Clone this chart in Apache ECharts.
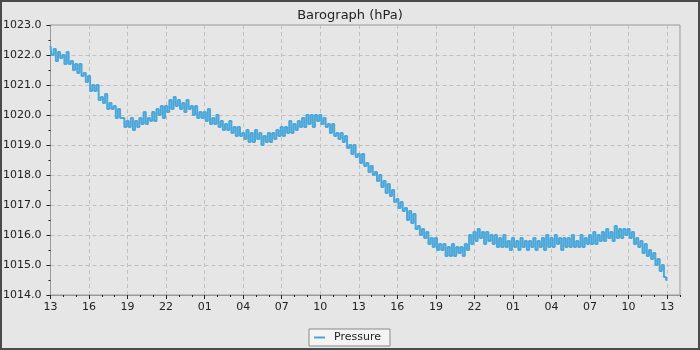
<!DOCTYPE html>
<html><head><meta charset="utf-8">
<script src="https://cdn.jsdelivr.net/npm/echarts@6/dist/echarts.min.js"></script>
<style>html,body{margin:0;padding:0;background:#e6e6e6}#c{width:700px;height:350px}</style>
</head><body><div id="c"></div>
<script>
const chartTitle = 'Barograph (hPa)';
const seriesName = 'Pressure';
const stepMinutes = 10; // spacing between readings
const xTickLabels = ['13','16','19','22','01','04','07','10','13','16','19','22','01','04','07','10','13'];
const yMin = 1014, yMax = 1023;
// readings every 10 minutes, one row per hour, starting at 13:00
const pressure = [
1022.3,1022.0,1022.2,1021.8,1022.1,1021.9,
1022.0,1021.7,1022.1,1021.7,1021.8,1021.5,
1021.7,1021.4,1021.7,1021.3,1021.4,1021.1,
1021.3,1020.8,1021.0,1020.8,1021.0,1020.5,
1020.6,1020.4,1020.7,1020.2,1020.4,1020.2,
1020.3,1019.9,1020.2,1019.9,1019.9,1019.6,
1019.8,1019.6,1019.9,1019.5,1019.8,1019.6,
1019.9,1019.7,1020.1,1019.7,1019.9,1019.8,
1020.1,1019.8,1020.2,1020.0,1020.3,1019.9,
1020.3,1020.1,1020.5,1020.2,1020.6,1020.3,
1020.5,1020.2,1020.4,1020.1,1020.5,1020.2,
1020.3,1020.0,1020.3,1019.9,1020.1,1019.9,
1020.1,1019.8,1020.2,1019.7,1019.9,1019.7,
1020.0,1019.6,1019.8,1019.5,1019.7,1019.5,
1019.8,1019.4,1019.6,1019.3,1019.6,1019.3,
1019.4,1019.2,1019.5,1019.1,1019.4,1019.1,
1019.5,1019.2,1019.4,1019.0,1019.3,1019.1,
1019.4,1019.1,1019.4,1019.2,1019.5,1019.3,
1019.6,1019.3,1019.6,1019.4,1019.8,1019.4,
1019.7,1019.5,1019.8,1019.6,1019.9,1019.6,
1020.0,1019.7,1020.0,1019.6,1020.0,1019.8,
1020.0,1019.7,1019.9,1019.6,1019.7,1019.4,
1019.7,1019.3,1019.4,1019.2,1019.4,1019.1,
1019.3,1018.9,1019.0,1018.7,1019.0,1018.6,
1018.7,1018.4,1018.7,1018.3,1018.4,1018.1,
1018.3,1018.0,1018.1,1017.8,1018.0,1017.6,
1017.8,1017.4,1017.7,1017.3,1017.5,1017.1,
1017.2,1016.9,1017.1,1016.8,1016.9,1016.5,
1016.8,1016.4,1016.7,1016.2,1016.3,1016.0,
1016.2,1015.9,1016.1,1015.7,1015.9,1015.6,
1015.9,1015.5,1015.7,1015.5,1015.7,1015.3,
1015.6,1015.3,1015.7,1015.3,1015.6,1015.4,
1015.6,1015.3,1015.7,1015.5,1016.0,1015.7,
1016.1,1015.8,1016.2,1015.9,1016.1,1015.7,
1016.1,1015.8,1016.0,1015.7,1016.0,1015.6,
1015.9,1015.6,1016.0,1015.6,1015.8,1015.5,
1015.9,1015.6,1015.8,1015.5,1015.9,1015.6,
1015.8,1015.5,1015.8,1015.6,1015.9,1015.5,
1015.8,1015.6,1015.9,1015.5,1016.0,1015.6,
1015.9,1015.6,1016.0,1015.7,1015.9,1015.5,
1015.9,1015.6,1015.9,1015.6,1016.0,1015.6,
1015.8,1015.6,1016.0,1015.6,1015.9,1015.7,
1016.0,1015.7,1016.1,1015.7,1016.0,1015.8,
1016.1,1015.8,1016.2,1015.9,1016.1,1015.8,
1016.3,1015.9,1016.2,1015.9,1016.2,1016.0,
1016.2,1015.9,1016.1,1015.7,1015.9,1015.6,
1015.8,1015.4,1015.7,1015.3,1015.5,1015.2,
1015.4,1015.0,1015.2,1014.8,1015.0,1014.6,
1014.5
];

const seriesData = pressure.map((v, i) => [i * stepMinutes / 60, v]);
const font = 'DejaVu Sans';
const chart = echarts.init(document.getElementById('c'), null, {renderer: 'canvas'});
chart.setOption({
  animation: false,
  backgroundColor: '#e6e6e6',
  title: {text: chartTitle, left: 'center', top: 4, textStyle: {fontFamily: font, fontSize: 13, fontWeight: 'normal', color: '#222'}},
  legend: {
    data: [seriesName], left: 309, top: 329, icon: 'rect', itemWidth: 11, itemHeight: 2, itemGap: 8,
    backgroundColor: '#f4f4f4', borderColor: '#888', borderWidth: 1, borderRadius: 0, padding: [3, 9, 3, 5],
    textStyle: {fontFamily: font, fontSize: 11, color: '#222', padding: [0, 0, 0, 4]}
  },
  grid: {left: 50, top: 25, right: 20, bottom: 55, show: true, borderColor: '#999', borderWidth: 1, backgroundColor: 'transparent', containLabel: false},
  xAxis: [{
    type: 'value', min: 0, max: 49, interval: 3,
    axisLine: {show: true, lineStyle: {color: '#999'}},
    axisTick: {show: true, length: 4, lineStyle: {color: '#222'}},
    axisLabel: {fontFamily: font, fontSize: 11, color: '#222', margin: 7, showMaxLabel: false,
      formatter: v => { const k = Math.round(v / 3); return (Math.abs(v - k * 3) < 1e-6 && xTickLabels[k] !== undefined) ? xTickLabels[k] : ''; }},
    splitLine: {show: true, lineStyle: {color: '#c0c0c0', type: [4, 3], width: 1}}
  }, {
    type: 'value', min: 0, max: 49, interval: 1, position: 'bottom', gridIndex: 0,
    axisLine: {show: false}, axisLabel: {show: false}, splitLine: {show: false},
    axisTick: {show: true, length: 2, lineStyle: {color: '#222'}}
  }],
  yAxis: {
    type: 'value', min: yMin, max: yMax, interval: 1,
    axisLine: {show: true, lineStyle: {color: '#999'}},
    axisTick: {show: true, length: 4, lineStyle: {color: '#222'}},
    minorTick: {show: true, splitNumber: 2, length: 2, lineStyle: {color: '#222'}},
    axisLabel: {fontFamily: font, fontSize: 11, color: '#222', margin: 9, formatter: v => v.toFixed(1)},
    splitLine: {show: true, lineStyle: {color: '#c0c0c0', type: [4, 3], width: 1}}
  },
  series: [{
    name: seriesName, type: 'line', xAxisIndex: 0, data: seriesData, step: 'middle',
    showSymbol: false, symbol: 'none', color: '#4da8da',
    lineStyle: {color: '#4da8da', width: 2}
  }],
  graphic: [{type: 'rect', silent: true, shape: {x: 1, y: 1, width: 698, height: 348}, style: {fill: 'none', stroke: '#4a4a4a', lineWidth: 2}, z: 100}]
});
</script></body></html>
